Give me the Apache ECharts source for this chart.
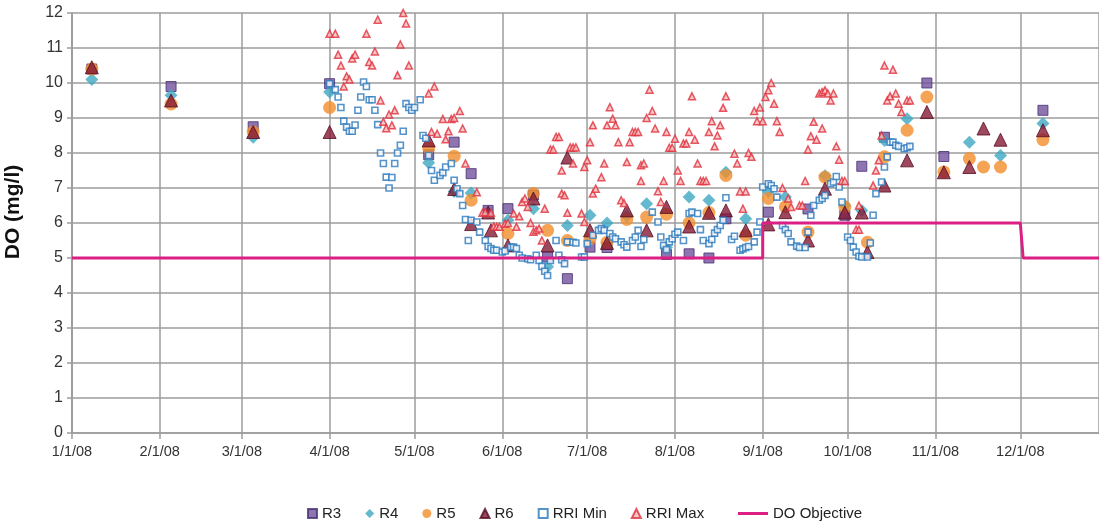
<!DOCTYPE html>
<html>
<head>
<meta charset="utf-8">
<script src="https://cdn.jsdelivr.net/npm/echarts@6.0.0/dist/echarts.min.js"></script>
<style>
  html, body { margin: 0; padding: 0; background: #fff; }
  #chart { width: 1099px; height: 527px; }
</style>
</head>
<body>
<div id="chart"></div>
<script>
// x values are days counted from 1/1/08
const sampleDays = [7, 35, 64, 91, 126, 135, 141, 147, 148, 154, 163, 168, 175, 183, 189, 196, 203, 210, 218, 225,
  231, 238, 246, 252, 260, 266, 273, 279, 281, 287, 295, 302, 308, 317, 322, 328, 343];
const r3 = [10.4, 9.9, 8.75, 9.98, 7.95, 8.31, 7.41, 6.36, null, 6.41, 6.8, 5.03, 4.41, 5.31, 5.3, null, null, 5.1, 5.12, 5.0,
  6.12, null, 6.31, null, 6.4, null, 6.22, 7.62, null, 8.45, null, 10.0, 7.9, null, null, null, 9.22];
const r4 = [10.1, 9.65, 8.45, 9.74, 7.72, 6.9, 6.86, null, null, 6.08, 6.41, 4.75, 5.93, 6.22, 6.0, 6.2, 6.55, 5.3, 6.74, 6.65,
  7.45, 6.12, 6.9, 6.74, null, 7.35, 6.5, 6.36, null, 8.36, 8.98, null, null, 8.31, null, 7.93, 8.84];
const r5 = [10.4, 9.4, 8.6, 9.3, 8.14, 7.91, 6.65, null, null, 5.7, 6.84, 5.79, 5.5, 5.55, 5.45, 6.1, 6.17, 6.25, 6.0, 6.3,
  7.36, 5.65, 6.7, 6.46, 5.74, 7.31, 6.46, null, 5.45, 7.89, 8.65, 9.6, 7.46, 7.84, 7.6, 7.6, 8.38];
const r6 = [10.45, 9.5, 8.6, 8.6, 8.36, 6.97, 5.97, 6.3, 5.79, 5.36, 6.7, 5.36, 7.87, 5.79, 5.43, 6.36, 5.79, 6.46, 5.9, 6.29,
  6.36, 5.79, 5.96, 6.31, 5.5, 6.98, 6.3, 6.3, 5.17, 7.07, 7.79, 9.17, 7.45, 7.6, 8.7, 8.38, 8.65];

// [day, value]
const rriMin = [
  [91, 9.98], [93, 9.81], [94, 9.6], [95, 9.3], [96, 8.91], [97, 8.74], [98, 8.62], [99, 8.62], [100, 8.8],
  [101, 9.22], [102, 9.6], [103, 10.03], [104, 9.9], [105, 9.52], [106, 9.52], [107, 9.22], [108, 8.81], [109, 8.0],
  [110, 7.7], [111, 7.31], [112, 7.0], [113, 7.3], [114, 7.7], [115, 8.0], [116, 8.22], [117, 8.62], [118, 9.41],
  [119, 9.3], [120, 9.22], [121, 9.3], [123, 9.52], [124, 8.5], [125, 8.42], [126, 7.93], [127, 7.5], [128, 7.22],
  [130, 7.36], [131, 7.44], [132, 7.6], [134, 7.7], [135, 7.22], [136, 6.98], [137, 6.84], [138, 6.5], [139, 6.1],
  [140, 5.5], [141, 6.08], [143, 6.03], [144, 5.74], [146, 5.5], [147, 5.33], [148, 5.27], [149, 5.22], [150, 5.22],
  [152, 5.17], [153, 5.2], [155, 5.31], [156, 5.31], [157, 5.27], [158, 5.08], [159, 5.0], [161, 4.98], [162, 4.95],
  [164, 5.08], [165, 4.93], [166, 4.76], [167, 4.62], [168, 4.5], [169, 4.93], [171, 5.5], [172, 5.08], [173, 4.95],
  [174, 4.84], [175, 5.46], [177, 5.45], [178, 5.43], [180, 5.03], [181, 5.03], [182, 5.41], [184, 5.65], [186, 5.79],
  [187, 5.84], [188, 5.79], [190, 5.7], [191, 5.6], [192, 5.55], [194, 5.46], [195, 5.38], [196, 5.31], [198, 5.5],
  [199, 5.6], [200, 5.79], [201, 5.33], [202, 5.53], [205, 6.31], [207, 6.03], [208, 5.6], [209, 5.36], [210, 5.24],
  [211, 5.46], [212, 5.55], [213, 5.68], [214, 5.74], [216, 5.5], [218, 6.27], [219, 6.31], [221, 6.27], [222, 5.81],
  [223, 5.5], [225, 5.41], [226, 5.53], [227, 5.71], [228, 5.81], [229, 5.93], [230, 6.08], [231, 6.72], [233, 5.53],
  [234, 5.62], [236, 5.22], [237, 5.26], [238, 5.3], [239, 5.33], [241, 5.46], [242, 5.74], [243, 6.03], [244, 7.03],
  [246, 7.12], [247, 7.07], [248, 6.98], [249, 6.74], [251, 5.93], [252, 5.81], [253, 5.7], [254, 5.46], [256, 5.34],
  [257, 5.3], [259, 5.3], [260, 5.74], [261, 6.22], [262, 6.5], [264, 6.65], [265, 6.7], [266, 6.79], [268, 7.12],
  [269, 7.17], [270, 7.33], [271, 7.03], [272, 6.6], [274, 5.6], [275, 5.5], [276, 5.31], [277, 5.17], [278, 5.05],
  [279, 5.03], [281, 5.03], [282, 5.43], [283, 6.22], [284, 6.84], [286, 7.17], [287, 7.6], [288, 7.89], [289, 8.31],
  [290, 8.31], [291, 8.22], [292, 8.19], [294, 8.12], [295, 8.15], [296, 8.19]
];
const rriMax = [
  [91, 11.41], [93, 11.41], [94, 10.81], [95, 10.5], [96, 9.9], [97, 10.19], [98, 10.1], [99, 10.7], [100, 10.81],
  [104, 11.41], [105, 10.6], [106, 10.5], [107, 10.9], [108, 11.81], [109, 9.5], [110, 8.89], [111, 8.71], [112, 9.1],
  [113, 8.79], [114, 9.22], [115, 10.22], [116, 11.1], [117, 12.0], [118, 11.7], [119, 10.5], [126, 9.7], [127, 8.6],
  [128, 9.9], [129, 8.55], [131, 8.97], [132, 8.39], [133, 8.62], [134, 8.97], [135, 9.0], [137, 9.2], [138, 8.7],
  [139, 7.7], [143, 6.88], [145, 6.29], [146, 6.31], [148, 6.29], [149, 5.9], [150, 5.89], [151, 5.89], [153, 5.98],
  [154, 6.0], [156, 6.27], [157, 5.89], [158, 6.19], [159, 6.6], [160, 6.7], [161, 6.46], [162, 6.0], [163, 5.75],
  [164, 5.79], [165, 5.84], [166, 5.5], [167, 6.41], [169, 8.1], [170, 8.1], [171, 8.46], [172, 8.46], [173, 7.5],
  [173, 6.84], [174, 6.79], [175, 6.29], [176, 8.16], [177, 8.16], [177, 7.7], [178, 8.16], [180, 6.27], [181, 7.6],
  [181, 6.03], [182, 7.79], [183, 8.31], [184, 8.79], [184, 6.84], [185, 6.98], [187, 7.31], [188, 7.7], [189, 8.79],
  [190, 9.31], [191, 8.98], [192, 8.79], [193, 8.31], [194, 6.65], [195, 6.57], [196, 7.74], [197, 8.31], [198, 8.6],
  [199, 8.6], [200, 8.6], [201, 7.65], [201, 7.2], [202, 7.7], [203, 9.0], [204, 9.81], [205, 9.2], [206, 8.7],
  [207, 6.91], [208, 6.6], [209, 7.2], [210, 8.6], [211, 8.15], [212, 8.15], [213, 8.41], [214, 7.5], [215, 7.2],
  [216, 8.27], [217, 8.27], [218, 8.6], [219, 9.62], [220, 8.38], [221, 7.7], [222, 7.2], [223, 7.2], [224, 7.2],
  [225, 8.6], [226, 8.91], [227, 8.19], [228, 8.5], [229, 8.79], [230, 9.29], [231, 9.62], [234, 7.98], [235, 7.7],
  [236, 6.9], [237, 6.41], [238, 6.9], [239, 8.0], [240, 7.89], [241, 9.2], [242, 8.91], [243, 9.3], [244, 8.91],
  [245, 9.6], [246, 9.79], [247, 10.0], [248, 9.41], [249, 8.91], [250, 8.6], [251, 7.0], [253, 6.7], [254, 6.46],
  [257, 6.5], [258, 6.5], [259, 7.2], [260, 8.1], [261, 8.48], [262, 8.89], [263, 8.38], [264, 9.7], [265, 9.74],
  [265, 8.7], [266, 9.79], [267, 9.7], [268, 9.5], [269, 9.7], [270, 8.19], [271, 7.81], [272, 7.2], [273, 7.2],
  [277, 5.81], [278, 5.81], [278, 6.5], [283, 7.07], [284, 7.5], [285, 7.79], [286, 8.5], [287, 10.5], [288, 9.5],
  [289, 9.62], [290, 10.38], [291, 9.7], [292, 9.41], [293, 9.17], [295, 9.5], [296, 9.5]
];
const objDays = [0, 244, 244, 335, 336, 363];
const objValues = [5, 5, 6, 6, 5, 5];
const axisEndDay = 362.8;

const DAY = 86400000;
const start = new Date(2008, 0, 1).getTime();
const toTime = d => start + d * DAY;
const fromSamples = vals => sampleDays.map((d, i) => [toTime(d), vals[i]]).filter(p => p[1] != null);
const fromPairs = list => list.map(p => [toTime(p[0]), p[1]]);

const chart = echarts.init(document.getElementById('chart'));
const font = '"Liberation Sans", Arial, sans-serif';
const gridColor = '#9c9c9c';
const legendText = { fontFamily: font, fontSize: 15, color: '#222' };

chart.setOption({
  animation: false,
  backgroundColor: '#fff',
  grid: { left: 72, right: 0, top: 13, bottom: 94, containLabel: false, outerBoundsMode: 'none' },
  legend: [
    {
      data: ['R3', 'R4', 'R5', 'R6', 'RRI Min', 'RRI Max'],
      left: 302, top: 501,
      itemWidth: 9, itemHeight: 9, itemGap: 24, itemTextGap: 10,
      textStyle: legendText
    },
    {
      data: [{ name: 'DO Objective', icon: 'rect' }],
      left: 733, top: 501,
      itemWidth: 30, itemHeight: 3, itemTextGap: 7,
      textStyle: legendText
    }
  ],
  xAxis: {
    type: 'time',
    min: start,
    max: toTime(axisEndDay),
    splitNumber: 12,
    minInterval: 28 * DAY,
    maxInterval: 31 * DAY,
    axisLine: { lineStyle: { color: gridColor, width: 1.5 } },
    axisTick: { show: true, length: 6, lineStyle: { color: gridColor, width: 1.5 } },
    splitLine: { show: true, lineStyle: { color: gridColor, width: 1.5 } },
    axisLabel: {
      fontFamily: font, fontSize: 14.5, color: '#333', margin: 11, hideOverlap: false,
      formatter: v => { const d = new Date(v); return (d.getMonth() + 1) + '/' + d.getDate() + '/08'; }
    }
  },
  yAxis: {
    type: 'value',
    min: 0, max: 12, interval: 1,
    name: 'DO (mg/l)',
    nameLocation: 'middle',
    nameGap: 48,
    nameTextStyle: { fontFamily: font, fontSize: 21, fontWeight: 'bold', color: '#111', padding: [0, 0, 0, 22] },
    axisLine: { show: true, lineStyle: { color: gridColor, width: 1.5 } },
    axisTick: { show: true, length: 5, lineStyle: { color: gridColor, width: 1.5 } },
    splitLine: { lineStyle: { color: gridColor, width: 1.5 } },
    axisLabel: { fontFamily: font, fontSize: 16, color: '#333', margin: 9 }
  },
  series: [
    {
      name: 'R3', type: 'scatter', symbol: 'rect', symbolSize: 10,
      itemStyle: { color: '#72539f', borderColor: '#45306f', borderWidth: 1 },
      data: fromSamples(r3)
    },
    {
      name: 'R4', type: 'scatter', symbol: 'diamond', symbolSize: 13,
      itemStyle: { color: '#3fa7c2' },
      data: fromSamples(r4)
    },
    {
      name: 'R5', type: 'scatter', symbol: 'circle', symbolSize: 13,
      itemStyle: { color: '#f28d2c' },
      data: fromSamples(r5)
    },
    {
      name: 'R6', type: 'scatter', symbol: 'triangle', symbolSize: 13,
      itemStyle: { color: '#861a36', borderColor: '#560d21', borderWidth: 1 },
      data: fromSamples(r6)
    },
    {
      name: 'RRI Min', type: 'scatter', symbol: 'rect', symbolSize: 6,
      itemStyle: { color: '#ffffff', borderColor: '#2b78bd', borderWidth: 1.6 },
      data: fromPairs(rriMin)
    },
    {
      name: 'RRI Max', type: 'scatter', symbol: 'triangle', symbolSize: 7,
      itemStyle: { color: '#f6bcbc', borderColor: '#e0303c', borderWidth: 1.5 },
      data: fromPairs(rriMax)
    },
    {
      name: 'DO Objective', type: 'line', symbol: 'none',
      lineStyle: { color: '#dc1f84', width: 3 },
      itemStyle: { color: '#dc1f84' },
      data: objDays.map((d, i) => [toTime(d), objValues[i]])
    }
  ]
});
</script>
</body>
</html>
